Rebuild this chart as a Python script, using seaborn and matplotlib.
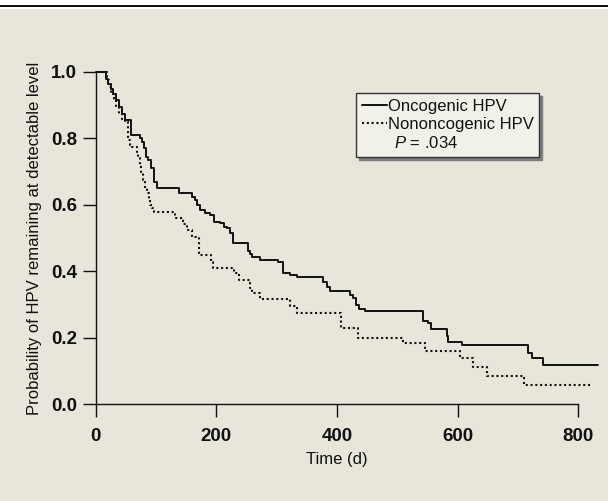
import numpy as np
import pandas as pd
import matplotlib
matplotlib.use("Agg")
import matplotlib.pyplot as plt
from matplotlib.lines import Line2D
from matplotlib.patches import Rectangle
import seaborn as sns

# ---- data ----
onc_t = [0, 17, 21, 25, 29, 33, 38, 43, 48, 58, 74, 77, 80, 83, 87, 92, 96, 101,
         138, 160, 164, 168, 173, 181, 189, 196, 206, 212, 217, 223, 228, 253, 256,
         259, 272, 303, 311, 322, 333, 377, 383, 388, 422, 427, 431, 437, 446, 543,
         551, 556, 582, 584, 608, 717, 723, 742, 832]
onc_s = [1.0, .98, .965, .95, .935, .915, .895, .875, .855, .81, .80, .79, .77, .745,
         .735, .71, .67, .65, .635, .625, .615, .60, .585, .575, .57, .55, .545, .535,
         .53, .515, .486, .46, .452, .444, .434, .429, .394, .389, .382, .369, .354,
         .341, .33, .319, .299, .287, .281, .252, .244, .228, .205, .188, .177, .155,
         .138, .118, .118]

non_t = [0, 18, 22, 26, 30, 34, 38, 43, 48, 54, 57, 60, 68, 70, 73, 75, 79, 82, 85,
         88, 90, 93, 96, 131, 145, 151, 159, 172, 191, 194, 229, 238, 256, 259, 272,
         322, 333, 406, 435, 510, 546, 604, 626, 648, 710, 822]
non_s = [1.0, .975, .955, .935, .915, .895, .875, .86, .85, .795, .78, .775, .76,
         .745, .72, .70, .675, .65, .635, .615, .60, .59, .58, .56, .543, .525, .504,
         .449, .429, .409, .394, .374, .349, .334, .316, .296, .274, .23, .20, .183,
         .161, .14, .113, .086, .057, .057]

series_labels = ["Oncogenic HPV", "Nononcogenic HPV"]
p_label = r"$\;\,P$ = .034"
x_ticks = [0, 200, 400, 600, 800]
y_ticks = [0.0, 0.2, 0.4, 0.6, 0.8, 1.0]
x_label = "Time (d)"
y_label = "Probability of HPV remaining at detectable level"

# ---- style ----
BG = "#E8E6DA"
sns.set_theme(style="ticks")
plt.rcParams["font.family"] = ["Liberation Sans", "DejaVu Sans"]
plt.rcParams["mathtext.fontset"] = "custom"
plt.rcParams["mathtext.rm"] = "Liberation Sans"
plt.rcParams["mathtext.it"] = "Liberation Sans:italic"

fig = plt.figure(figsize=(6.08, 5.01), dpi=100, facecolor=BG)
W, H = 608, 501
ax = fig.add_axes([95.7 / W, 1 - 404.3 / H, (578.3 - 95.7) / W, (404.3 - 72) / H])
ax.set_facecolor(BG)

df_onc = pd.DataFrame({"t": onc_t, "s": onc_s})
df_non = pd.DataFrame({"t": non_t, "s": non_s})

sns.lineplot(data=df_onc, x="t", y="s", ax=ax, color="#111111", lw=1.4,
             drawstyle="steps-post", estimator=None, clip_on=False, legend=False)
sns.lineplot(data=df_non, x="t", y="s", ax=ax, color="#111111", lw=1.5,
             linestyle=(0, (1, 1.3)), drawstyle="steps-post", estimator=None,
             clip_on=False, legend=False)

ax.set_xlim(0, 800)
ax.set_ylim(0, 1.0)
ax.set_xticks(x_ticks)
ax.set_yticks(y_ticks)
ax.set_xticklabels([str(v) for v in x_ticks])
ax.set_yticklabels([f"{v:.1f}" for v in y_ticks])
for lab in ax.get_xticklabels() + ax.get_yticklabels():
    lab.set_fontweight("bold")
    lab.set_color("#111111")
ax.tick_params(axis="both", direction="out", length=9.5, width=1.0,
               color="#111111", labelsize=13.5)
ax.tick_params(axis="x", pad=7.5)
ax.tick_params(axis="y", pad=4)

for side in ["top", "right"]:
    ax.spines[side].set_visible(False)
for side in ["left", "bottom"]:
    ax.spines[side].set_linewidth(1.0)
    ax.spines[side].set_color("#111111")

ax.set_xlabel(x_label, fontsize=12, color="#111111")
ax.set_ylabel(y_label, fontsize=12, color="#111111")
ax.xaxis.set_label_coords(0.5, -0.145)
ax.yaxis.set_label_coords(-0.112, 0.5)

handles = [Line2D([], [], color="#111111", lw=1.4),
           Line2D([], [], color="#111111", lw=1.5, linestyle=(0, (1, 1.3))),
           Line2D([], [], color="none")]
leg = ax.legend(handles, series_labels + [p_label], loc="upper left",
                bbox_to_anchor=(356 / W, 1 - 93 / H), bbox_transform=fig.transFigure,
                borderaxespad=0, fontsize=12, handlelength=1.5, handletextpad=0.05,
                borderpad=0.35, labelspacing=0.2, frameon=True, fancybox=False,
                shadow={"color": "#7d7d7d", "alpha": 1.0})
leg.get_frame().set_facecolor("#F1F0E9")
leg.get_frame().set_edgecolor("#333333")
leg.get_frame().set_linewidth(1.0)
leg.get_frame().set_alpha(1.0)
for txt in leg.get_texts():
    txt.set_color("#111111")

# top rule
fig.add_artist(Rectangle((0, 1 - 8.5 / H), 1, 8.5 / H, transform=fig.transFigure,
                         facecolor="white", edgecolor="none"))
fig.add_artist(Rectangle((0, 1 - 7.3 / H), 1, 2.4 / H, transform=fig.transFigure,
                         facecolor="#111111", edgecolor="none"))

fig.savefig("out.png", dpi=100, facecolor=BG)
